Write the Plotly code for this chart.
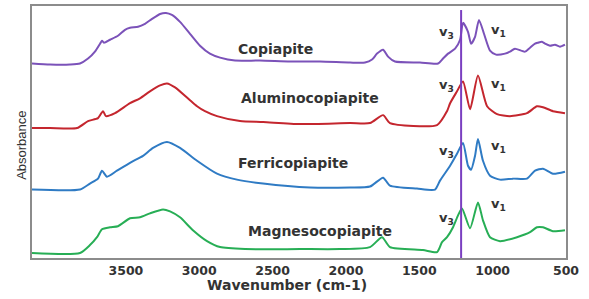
import plotly.graph_objects as go

# ---- data (wavenumber cm-1, relative absorbance incl. offset) ----
copiapite_wn = [4140, 4017, 3881, 3813, 3758, 3711, 3676, 3663, 3649, 3608, 3554, 3506, 3472, 3417, 3370,
                3322, 3267, 3227, 3186, 3131, 3063, 2995, 2927, 2858, 2756, 2586, 2381, 2177, 1972, 1870,
                1822, 1788, 1747, 1713, 1666, 1495, 1372, 1338, 1304, 1256, 1222, 1202, 1168, 1147, 1120,
                1093, 1059, 1018, 977, 916, 882, 848, 779, 745, 711, 691, 664, 643, 609, 575, 541, 507]
copiapite_ab = [196, 195, 195, 196, 201, 208, 216, 219, 217, 220, 224, 230, 232, 233, 236,
                241, 246, 247, 245, 238, 226, 214, 206, 202, 199, 199, 198, 198, 197, 197,
                200, 206, 210, 203, 198, 197, 196, 201, 206, 211, 220, 237, 228, 216, 223,
                240, 226, 209, 205, 206, 208, 211, 208, 212, 216, 217, 218, 216, 214, 215, 213, 215]

alumino_wn = [4140, 4017, 3833, 3758, 3690, 3656, 3636, 3574, 3472, 3404, 3336, 3267, 3220, 3165, 3063,
              3015, 2961, 2879, 2722, 2565, 2313, 1972, 1836, 1747, 1700, 1379, 1311, 1290, 1243, 1202,
              1154, 1100, 1038, 970, 882, 766, 698, 657, 589, 507]
alumino_ab = [131, 131, 131, 138, 141, 148, 143, 146, 156, 161, 168, 174, 176, 172, 159,
              153, 148, 143, 138, 137, 135, 136, 136, 144, 136, 134, 148, 156, 168, 178,
              150, 184, 153, 145, 143, 146, 153, 152, 148, 146]

ferri_wn = [4140, 3813, 3745, 3690, 3663, 3629, 3561, 3472, 3383, 3315, 3220, 3131, 3015, 2879, 2743,
            2565, 2245, 1972, 1836, 1747, 1700, 1516, 1393, 1359, 1290, 1243, 1202, 1168, 1147, 1120,
            1100, 1066, 1018, 950, 861, 766, 711, 657, 589, 507]
ferri_ab = [69, 69, 75, 80, 88, 82, 88, 96, 103, 111, 117, 111, 98, 85, 79,
            75, 71, 71, 72, 81, 73, 70, 69, 78, 93, 105, 116, 93, 89, 103,
            120, 98, 83, 79, 80, 80, 88, 90, 85, 87]

magneso_wn = [4140, 3813, 3745, 3697, 3663, 3608, 3554, 3472, 3404, 3336, 3247, 3199, 3131, 3043, 2947,
              2858, 2688, 2313, 2040, 1836, 1754, 1700, 1475, 1379, 1345, 1311, 1270, 1236, 1209, 1154,
              1100, 1066, 1018, 950, 834, 745, 698, 657, 589, 507]
magneso_ab = [5, 5, 13, 21, 29, 31, 32, 40, 41, 45, 49, 47, 41, 28, 17,
              11, 9, 9, 9, 11, 21, 11, 8, 6, 16, 21, 31, 43, 50, 30,
              56, 38, 21, 17, 21, 26, 31, 31, 27, 28]

series_names = ["Copiapite", "Aluminocopiapite", "Ferricopiapite", "Magnesocopiapite"]
series_colors = ["#7b52b9", "#c4262e", "#2f7bc4", "#27ae55"]
label_pos = [(2483, 211), (2245, 161), (2361, 96), (2177, 27)]
v3_pos = [(1318, 227), (1318, 174), (1318, 107), (1318, 40)]
v1_pos = [(961, 229), (961, 175), (961, 112), (961, 54)]

marker_wavenumber = 1215
x_ticks = [3500, 3000, 2500, 2000, 1500, 1000, 500]

fig = go.Figure()
series = [(copiapite_wn, copiapite_ab), (alumino_wn, alumino_ab),
          (ferri_wn, ferri_ab), (magneso_wn, magneso_ab)]
for (wn, ab), name, col in zip(series, series_names, series_colors):
    fig.add_trace(go.Scatter(x=wn, y=ab, mode="lines", name=name,
                             line=dict(color=col, width=2, shape="spline", smoothing=0.6),
                             showlegend=False, hoverinfo="skip"))

fig.add_shape(type="line", xref="x", yref="paper", x0=marker_wavenumber, x1=marker_wavenumber,
              y0=0, y1=0.984, line=dict(color="#7a3fc0", width=2))

lab_font = dict(family="DejaVu Sans", size=14, color="#333333", weight="bold")
v_font = dict(family="DejaVu Sans", size=13, color="#333333", weight="bold")
for name, (lx, ly) in zip(series_names, label_pos):
    fig.add_annotation(x=lx, y=ly, text=name, showarrow=False, font=lab_font,
                       xanchor="center", yanchor="middle")
for (x3, y3), (x1, y1) in zip(v3_pos, v1_pos):
    fig.add_annotation(x=x3, y=y3, text="v<sub>3</sub>", showarrow=False, font=v_font,
                       xanchor="center", yanchor="middle")
    fig.add_annotation(x=x1, y=y1, text="v<sub>1</sub>", showarrow=False, font=v_font,
                       xanchor="center", yanchor="middle")

# axis titles
fig.add_annotation(xref="paper", yref="paper", x=-0.0187, y=0.445, text="Absorbance",
                   textangle=-90, showarrow=False, xanchor="center", yanchor="middle",
                   font=dict(family="Liberation Sans", size=13, color="#333333"))
fig.add_annotation(xref="paper", yref="paper", x=0.478, y=-0.108, text="Wavenumber (cm-1)",
                   showarrow=False, xanchor="center", yanchor="middle",
                   font=dict(family="DejaVu Sans", size=14, color="#333333", weight="bold"))

fig.update_layout(
    width=589, height=299,
    margin=dict(l=32, r=23, t=4, b=41),
    paper_bgcolor="white", plot_bgcolor="white",
    xaxis=dict(range=[4140, 500], tickvals=x_ticks, ticks="", showgrid=False, zeroline=False,
               showline=True, linecolor="#8c8c8c", linewidth=1.5, mirror=True,
               tickfont=dict(family="DejaVu Sans", size=12.5, color="#333333", weight="bold")),
    yaxis=dict(range=[0, 254], showticklabels=False, ticks="", showgrid=False, zeroline=False,
               showline=True, linecolor="#8c8c8c", linewidth=1.5, mirror=True),
)

fig.write_html("out.html", config={"displayModeBar": False},
               post_script="document.body.style.margin='0';document.body.style.padding='0';")
